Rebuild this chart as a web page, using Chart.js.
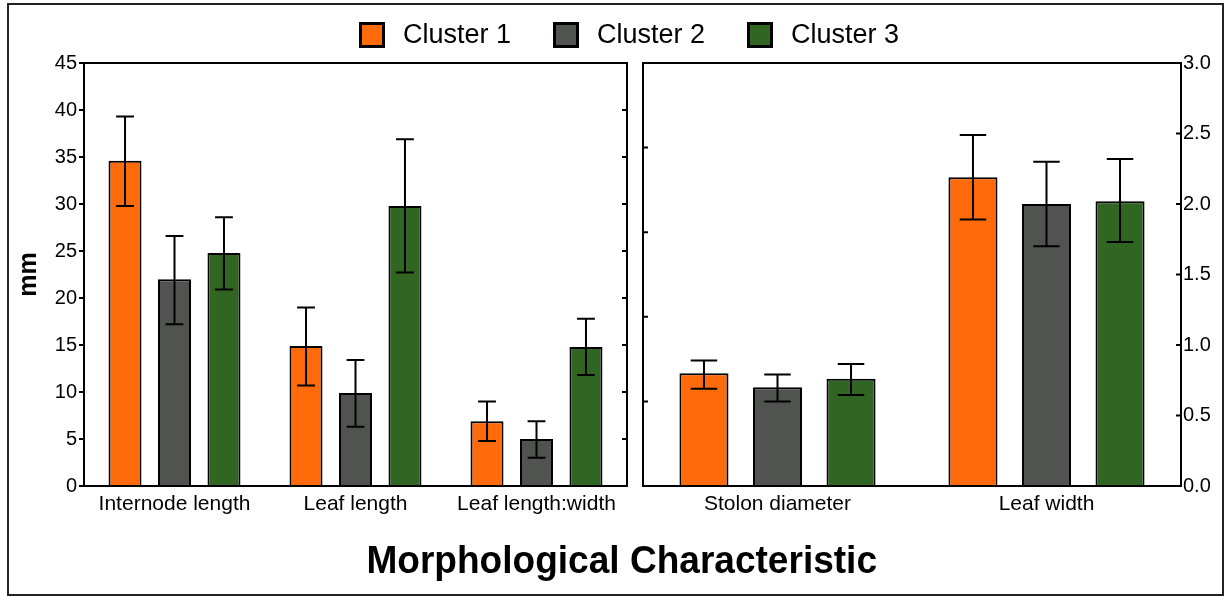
<!DOCTYPE html>
<html>
<head>
<meta charset="utf-8">
<script src="https://cdn.jsdelivr.net/npm/chart.js@4.4.0/dist/chart.umd.min.js"></script>
<style>
  body { margin: 0; background: #fff; font-family: "Liberation Sans", Arial, sans-serif; }
  #wrap { position: relative; width: 1225px; height: 596px; overflow: hidden; }
  #frame { position: absolute; left: 7px; top: 3px; width: 1217px; height: 593px; border: 2px solid #222; box-sizing: border-box; }
  #leftBox { position: absolute; left: 0; top: 0; width: 640px; height: 596px; }
  #rightBox { position: absolute; left: 635px; top: 0; width: 590px; height: 596px; }
  #legend { position: absolute; left: 359px; top: 19px; display: flex; align-items: center; font-size: 27px; color: #000; }
  .item { display: flex; align-items: center; margin-right: 42px; }
  .item:last-child { margin-right: 0; }
  .sw { width: 20px; height: 20px; border: 3px solid #000; margin-right: 18px; }
  #title { position: absolute; left: 0; width: 1225px; top: 538px; text-align: center; font-size: 39px; font-weight: bold; color: #000; }
  #title span { display: inline-block; transform: scaleX(0.95); margin-left: 18px; }
</style>
</head>
<body>
<div id="wrap">
  <div id="frame"></div>
  <div id="leftBox"><canvas id="leftChart"></canvas></div>
  <div id="rightBox"><canvas id="rightChart"></canvas></div>
  <div id="legend"></div>
  <div id="title"><span>Morphological Characteristic</span></div>
</div>
<script>
// 数据
const clusterNames = ['Cluster 1', 'Cluster 2', 'Cluster 3'];
const clusterColors = ['#ff6a0a', '#515351', '#306622'];

// 左图 (mm)
const leftCategories = ['Internode length', 'Leaf length', 'Leaf length:width'];
const leftMeans = [[34.6, 14.9, 6.9], [22.0, 9.9, 5.0], [24.8, 29.8, 14.8]];
const leftLow = [[29.8, 10.7, 4.8], [17.2, 6.3, 3.0], [20.9, 22.7, 11.8]];
const leftHigh = [[39.3, 19.0, 9.0], [26.6, 13.4, 6.9], [28.6, 36.9, 17.8]];
const leftTickValues = [5, 10, 15, 20, 25, 30, 35, 40];

// 右图
const rightCategories = ['Stolon diameter', 'Leaf width'];
const rightMeans = [[0.80, 2.19], [0.70, 2.00], [0.76, 2.02]];
const rightLow = [[0.69, 1.89], [0.60, 1.70], [0.645, 1.73]];
const rightHigh = [[0.89, 2.49], [0.79, 2.30], [0.865, 2.32]];
const rightTickValues = [0.5, 1.0, 1.5, 2.0, 2.5];
const rightInnerTicks = [0.6, 1.2, 1.8, 2.4];

// 图例
const legendEl = document.getElementById('legend');
clusterNames.forEach(function(name, i) {
    const item = document.createElement('div');
    item.className = 'item';
    item.innerHTML = '<div class="sw" style="background:' + clusterColors[i] + '"></div><span>' + name + '</span>';
    legendEl.appendChild(item);
});

// 边框、内刻度和误差线
const panelPlugin = {
    id: 'panel',
    afterDatasetsDraw(chart) {
        const ctx = chart.ctx;
        const yScale = chart.scales.y;
        ctx.save();
        ctx.strokeStyle = '#000';
        ctx.lineWidth = 2;
        chart.data.datasets.forEach(function(ds, di) {
            const meta = chart.getDatasetMeta(di);
            meta.data.forEach(function(bar, i) {
                const yLo = yScale.getPixelForValue(ds.errLow[i]);
                const yHi = yScale.getPixelForValue(ds.errHigh[i]);
                const cap = bar.width * 0.27;
                ctx.beginPath();
                ctx.moveTo(bar.x, yLo); ctx.lineTo(bar.x, yHi);
                ctx.moveTo(bar.x - cap, yLo); ctx.lineTo(bar.x + cap, yLo);
                ctx.moveTo(bar.x - cap, yHi); ctx.lineTo(bar.x + cap, yHi);
                ctx.stroke();
            });
        });
        ctx.restore();
    },
    afterDraw(chart, args, opts) {
        const ctx = chart.ctx;
        const a = chart.chartArea;
        const yScale = chart.scales.y;
        ctx.save();
        ctx.strokeStyle = '#000';
        ctx.lineWidth = 2;
        ctx.strokeRect(a.left, a.top, a.right - a.left, a.bottom - a.top);
        ctx.beginPath();
        (opts.leftTicks || []).forEach(function(v) {
            const y = yScale.getPixelForValue(v);
            ctx.moveTo(a.left, y); ctx.lineTo(a.left + 5, y);
        });
        (opts.rightTicks || []).forEach(function(v) {
            const y = yScale.getPixelForValue(v);
            ctx.moveTo(a.right, y); ctx.lineTo(a.right - 5, y);
        });
        ctx.stroke();
        ctx.restore();
    }
};

function makeDatasets(means, low, high) {
    return clusterNames.map(function(name, i) {
        return {
            label: name,
            data: means[i],
            errLow: low[i],
            errHigh: high[i],
            backgroundColor: clusterColors[i],
            borderColor: '#000',
            borderWidth: 2,
            categoryPercentage: 0.82,
            barPercentage: 0.667
        };
    });
}

const tickFont = { family: '"Liberation Sans", Arial, sans-serif', size: 20 };
const catFont = { family: '"Liberation Sans", Arial, sans-serif', size: 21 };

new Chart(document.getElementById('leftChart'), {
    type: 'bar',
    data: { labels: leftCategories, datasets: makeDatasets(leftMeans, leftLow, leftHigh) },
    options: {
        responsive: true,
        maintainAspectRatio: false,
        animation: false,
        layout: { padding: { top: 63, right: 13, left: 0, bottom: 0 } },
        plugins: {
            legend: { display: false },
            tooltip: { enabled: false },
            panel: { rightTicks: leftTickValues }
        },
        scales: {
            x: {
                grid: { display: false },
                border: { display: false },
                ticks: { font: catFont, color: '#000', padding: -2, maxRotation: 0, autoSkip: false },
                afterFit: function(s) { s.height = 110; }
            },
            y: {
                min: 0,
                max: 45,
                ticks: { stepSize: 5, font: tickFont, color: '#000', padding: 2 },
                grid: { drawOnChartArea: false, tickLength: 5, color: '#000', lineWidth: 2 },
                border: { display: false },
                title: {
                    display: true,
                    text: 'mm',
                    color: '#000',
                    font: { family: '"Liberation Sans", Arial, sans-serif', size: 25, weight: 'bold' },
                    padding: { top: 14, bottom: 0 }
                },
                afterFit: function(s) { s.width = 84; }
            }
        }
    },
    plugins: [panelPlugin]
});

new Chart(document.getElementById('rightChart'), {
    type: 'bar',
    data: { labels: rightCategories, datasets: makeDatasets(rightMeans, rightLow, rightHigh) },
    options: {
        responsive: true,
        maintainAspectRatio: false,
        animation: false,
        layout: { padding: { top: 63, right: 0, left: 8, bottom: 0 } },
        plugins: {
            legend: { display: false },
            tooltip: { enabled: false },
            panel: { leftTicks: rightInnerTicks, rightTicks: rightTickValues }
        },
        scales: {
            x: {
                grid: { display: false },
                border: { display: false },
                ticks: { font: catFont, color: '#000', padding: -2, maxRotation: 0, autoSkip: false },
                afterFit: function(s) { s.height = 110; }
            },
            y: {
                position: 'right',
                min: 0,
                max: 3,
                ticks: {
                    stepSize: 0.5, font: tickFont, color: '#000', padding: 2,
                    callback: function(v) { return v.toFixed(1); }
                },
                grid: { display: false, drawTicks: false },
                border: { display: false },
                afterFit: function(s) { s.width = 44; }
            }
        }
    },
    plugins: [panelPlugin]
});
</script>
</body>
</html>
